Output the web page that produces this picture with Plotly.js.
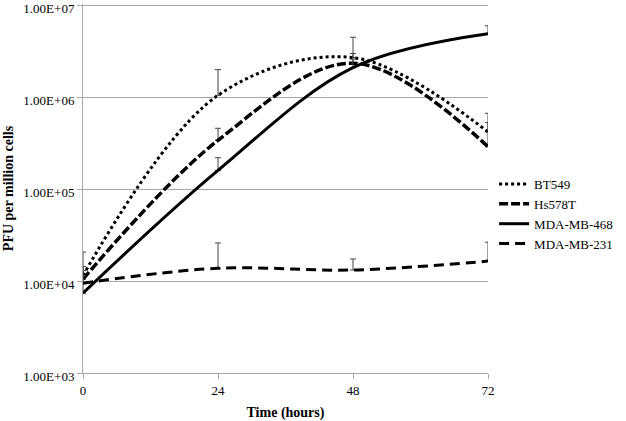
<!DOCTYPE html>
<html><head><meta charset="utf-8">
<script src="https://cdn.plot.ly/plotly-3.0.1.min.js"></script>
<style>html,body{margin:0;padding:0;background:#fff}#chart{width:626px;height:421px}</style>
</head><body><div id="chart"></div>
<script>
const hours = [0, 24, 48, 72];
const seriesNames = ["BT549", "Hs578T", "MDA-MB-468", "MDA-MB-231"];
const bt549 = [11500, 1050000, 2700000, 420000];
const bt549Top = [20700, 2000000, 4500000, 670000];
const hs578t = [10500, 340000, 2350000, 290000];
const hs578tTop = [13000, 460000, 3000000, 530000];
const mda468 = [7400, 160000, 2100000, 4900000];
const mda468Top = [14400, 220000, 2600000, 6000000];
const mda231 = [9500, 13800, 13200, 16500];
const mda231Top = [11400, 26000, 17400, 26500];
const yTickVals = [1e3, 1e4, 1e5, 1e6, 1e7];
const yTickText = ["1.00E+03", "1.00E+04", "1.00E+05", "1.00E+06", "1.00E+07"];
const xTickVals = [0, 24, 48, 72];
const xTickText = ["0", "24", "48", "72"];

const values = [bt549, hs578t, mda468, mda231];
const tops = [bt549Top, hs578tTop, mda468Top, mda231Top];
const dashes = ["dot", "9px,3px", "solid", "10px,6px"];
const widths = [3, 3.5, 3, 3];

const traces = values.map((v, i) => ({
  x: hours, y: v, name: seriesNames[i], type: "scatter", mode: "lines",
  line: {color: "#000", width: widths[i], dash: dashes[i], shape: "spline", smoothing: 1},
  error_y: {type: "data", symmetric: false, array: tops[i].map((t, j) => t - v[j]),
            arrayminus: v.map(() => 0), color: "#444", thickness: 1, width: 3}
}));

const serif = "Liberation Serif";
const layout = {
  width: 626, height: 421,
  margin: {l: 83, r: 138, t: 4, b: 48},
  paper_bgcolor: "#fff", plot_bgcolor: "#fff",
  font: {family: serif, size: 13, color: "#000"},
  showlegend: true,
  legend: {x: 1.015, y: 0.553, xanchor: "left", yanchor: "top", bgcolor: "rgba(0,0,0,0)",
           font: {family: serif, size: 13}, tracegroupgap: 0, itemwidth: 30},
  xaxis: {range: [0, 72], tickvals: xTickVals, ticktext: xTickText, showgrid: false,
          zeroline: false, showline: true, linecolor: "#a6a6a6", linewidth: 1,
          ticks: "outside", ticklen: 5, tickcolor: "#a6a6a6",
          tickfont: {family: serif, size: 13},
          title: {text: "<b>Time (hours)</b>", font: {family: serif, size: 14}, standoff: 10}},
  yaxis: {type: "log", range: [3, 7.015], tickvals: yTickVals, ticktext: yTickText,
          ticklabeloverflow: "allow", ticklabelshift: 3,
          showgrid: true, gridcolor: "#a6a6a6", gridwidth: 1, zeroline: false,
          showline: true, linecolor: "#a6a6a6", linewidth: 1,
          ticks: "outside", ticklen: 5, tickcolor: "#a6a6a6",
          tickfont: {family: serif, size: 13},
          title: {text: "<b>PFU per million cells</b>", font: {family: serif, size: 14}, standoff: 6}}
};
Plotly.newPlot("chart", traces, layout, {displayModeBar: false, staticPlot: true});
</script></body></html>
